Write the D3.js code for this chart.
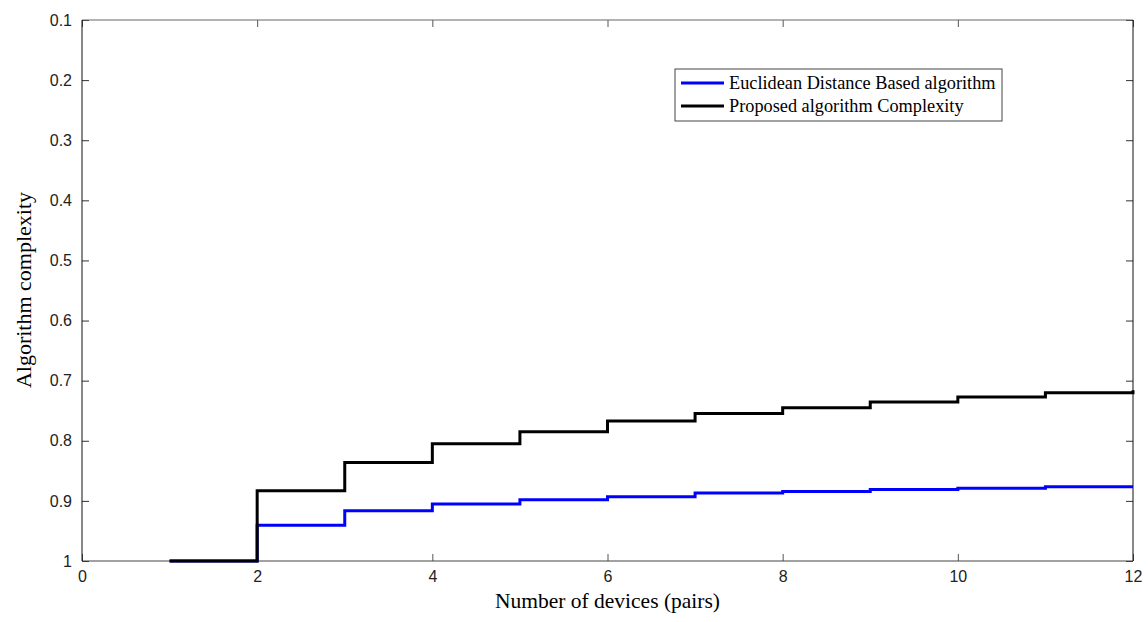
<!DOCTYPE html>
<html>
<head>
<meta charset="utf-8">
<script src="https://d3js.org/d3.v7.min.js"></script>
<style>
  body { margin: 0; background: #fff; }
</style>
</head>
<body>
<div id="chart"></div>
<script>
  // number of device pairs (stairs start points)
  var devices = [1, 2, 3, 4, 5, 6, 7, 8, 9, 10, 11, 12];
  var euclidean = [1.0, 0.9405, 0.9166, 0.905, 0.898, 0.893, 0.887, 0.8845, 0.881, 0.879, 0.8763, 0.8763];
  var proposed = [1.0, 0.883, 0.836, 0.805, 0.785, 0.767, 0.7545, 0.745, 0.7356, 0.7272, 0.72, 0.716];
  var xTicks = [0, 2, 4, 6, 8, 10, 12];
  var yTicks = [0.1, 0.2, 0.3, 0.4, 0.5, 0.6, 0.7, 0.8, 0.9, 1];
  var seriesNames = ["Euclidean Distance Based algorithm", "Proposed algorithm Complexity"];
  var seriesColors = ["#0000ff", "#000000"];

  var W = 1148, H = 622;
  var margin = { top: 20, right: 15, bottom: 61, left: 82 };
  var width = W - margin.left - margin.right;
  var height = H - margin.top - margin.bottom;

  var svg = d3.select("#chart").append("svg")
    .attr("width", W)
    .attr("height", H);

  var g = svg.append("g")
    .attr("transform", "translate(" + margin.left + "," + margin.top + ")");

  var xScale = d3.scaleLinear().domain([0, 12]).range([0, width]);
  // reversed y axis: 0.1 at top, 1 at bottom
  var yScale = d3.scaleLinear().domain([0.1, 1]).range([0, height]);

  var fmt = function(d) { return d === 1 ? "1" : d3.format(".1f")(d); };

  function styleAxis(a, col) {
    a.select(".domain").remove();
    a.selectAll("line").attr("stroke", col);
    a.selectAll("text")
      .style("font-family", "'Liberation Sans', Arial, sans-serif")
      .style("font-size", "16px")
      .style("fill", "#222");
  }

  // axes, ticks inside like matlab
  g.append("g")
    .attr("transform", "translate(0," + height + ")")
    .call(d3.axisBottom(xScale).tickValues(xTicks).tickSize(-7).tickPadding(10).tickSizeOuter(0))
    .call(function(a) { styleAxis(a, "#555"); });

  g.append("g")
    .call(d3.axisTop(xScale).tickValues(xTicks).tickSize(-7).tickFormat("").tickSizeOuter(0))
    .call(function(a) { styleAxis(a, "#555"); });

  g.append("g")
    .call(d3.axisLeft(yScale).tickValues(yTicks).tickFormat(fmt).tickSize(-7).tickPadding(10).tickSizeOuter(0))
    .call(function(a) { styleAxis(a, "#333"); });

  g.append("g")
    .attr("transform", "translate(" + width + ",0)")
    .call(d3.axisRight(yScale).tickValues(yTicks).tickSize(-7).tickFormat("").tickSizeOuter(0))
    .call(function(a) { styleAxis(a, "#333"); });

  // box
  g.append("line").attr("x1", 0).attr("x2", width).attr("y1", height).attr("y2", height)
    .attr("stroke", "#444").attr("stroke-width", 1);
  g.append("line").attr("x1", 0).attr("x2", width).attr("y1", 0).attr("y2", 0)
    .attr("stroke", "#666").attr("stroke-width", 1);
  g.append("line").attr("x1", 0).attr("x2", 0).attr("y1", 0).attr("y2", height)
    .attr("stroke", "#111").attr("stroke-width", 1);
  g.append("line").attr("x1", width).attr("x2", width).attr("y1", 0).attr("y2", height)
    .attr("stroke", "#111").attr("stroke-width", 1);

  var line = d3.line()
    .curve(d3.curveStepAfter)
    .x(function(d, i) { return xScale(devices[i]); })
    .y(function(d) { return yScale(d); });

  // blue first, black on top
  [euclidean, proposed].forEach(function(s, k) {
    g.append("path")
      .datum(s)
      .attr("fill", "none")
      .attr("stroke", seriesColors[k])
      .attr("stroke-width", 3)
      .attr("d", line);
  });

  // axis labels
  svg.append("text")
    .attr("x", margin.left + width / 2)
    .attr("y", 608)
    .style("text-anchor", "middle")
    .style("font-family", "'Liberation Serif', 'Times New Roman', serif")
    .style("font-size", "21.5px")
    .text("Number of devices (pairs)");

  svg.append("text")
    .attr("transform", "rotate(-90)")
    .attr("x", -290)
    .attr("y", 31)
    .style("text-anchor", "middle")
    .style("font-family", "'Liberation Serif', 'Times New Roman', serif")
    .style("font-size", "22px")
    .text("Algorithm complexity");

  // legend
  var legend = svg.append("g").attr("transform", "translate(675,69)");
  legend.append("rect")
    .attr("width", 327)
    .attr("height", 52)
    .attr("fill", "#fff")
    .attr("stroke", "#444")
    .attr("stroke-width", 1);

  seriesNames.forEach(function(name, i) {
    var yy = 14 + i * 23;
    legend.append("line")
      .attr("x1", 6).attr("x2", 49)
      .attr("y1", yy).attr("y2", yy)
      .attr("stroke", seriesColors[i])
      .attr("stroke-width", 3);
    legend.append("text")
      .attr("x", 54)
      .attr("y", yy + 6)
      .style("font-family", "'Liberation Serif', 'Times New Roman', serif")
      .style("font-size", "18.3px")
      .text(name);
  });
</script>
</body>
</html>
